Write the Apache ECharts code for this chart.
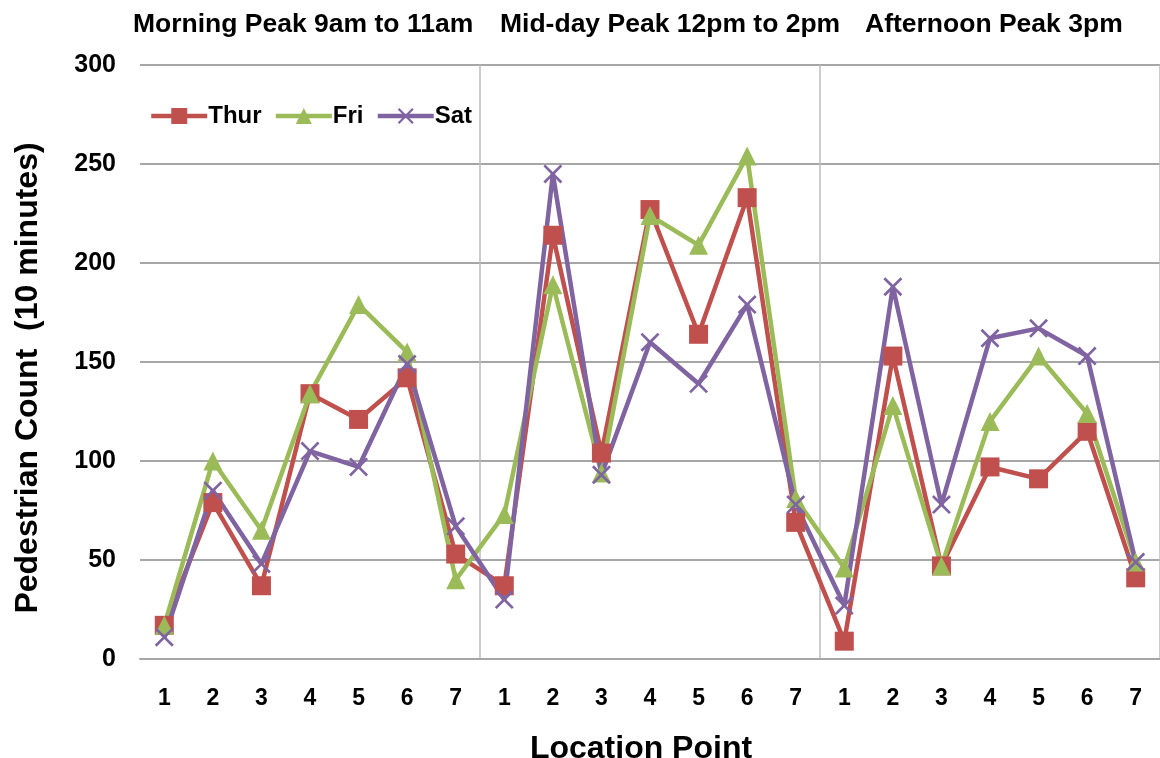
<!DOCTYPE html>
<html>
<head>
<meta charset="utf-8">
<script src="https://cdn.jsdelivr.net/npm/echarts@6/dist/echarts.min.js"></script>
<style>
  html, body { margin: 0; padding: 0; background: #fff; }
  #main { width: 1160px; height: 758px; }
</style>
</head>
<body>
<div id="main"></div>
<script>
// location points, three peaks of 7
var locations = ['1','2','3','4','5','6','7','1','2','3','4','5','6','7','1','2','3','4','5','6','7'];
var peakTitles = ['Morning Peak 9am to 11am', 'Mid-day Peak 12pm to 2pm', 'Afternoon Peak 3pm'];

var thur = [17, 79, 37, 134, 121, 142, 53,   37, 214, 104, 227, 164, 233, 69,   9, 153, 47, 97, 91, 115, 41];
var fri  = [17, 100, 65, 134, 179, 155, 40,  73, 189, 94, 224, 209, 254, 81,   46, 128, 47, 120, 153, 124, 49];
var sat  = [11, 85, 48, 105, 97, 149, 67,    30, 245, 93, 160, 139, 179, 78,   27, 188, 78, 162, 167, 153, 49];

var crossPath = 'path://M0,1 L1,0 L5,4 L9,0 L10,1 L6,5 L10,9 L9,10 L5,6 L1,10 L0,9 L4,5 Z';
var font = 'Liberation Sans, Arial, sans-serif';

var myChart = echarts.init(document.getElementById('main'));

function makeSeries(name, data, color, symbol, size) {
  return {
    name: name,
    type: 'line',
    data: data,
    symbol: symbol,
    symbolSize: size,
    showAllSymbol: true,
    lineStyle: { color: color, width: 4.5 },
    itemStyle: { color: color },
    emphasis: { disabled: true },
    animation: false
  };
}

myChart.setOption({
  backgroundColor: '#fff',
  title: [
    { text: peakTitles[0], left: 128, top: 6 },
    { text: peakTitles[1], left: 495, top: 6 },
    { text: peakTitles[2], left: 860, top: 6 }
  ].map(function (t) {
    t.textStyle = { fontFamily: font, fontWeight: 'bold', fontSize: 26.5, color: '#000' };
    return t;
  }),
  legend: {
    left: 144,
    top: 99,
    itemWidth: 56,
    itemHeight: 20,
    itemGap: 12,
    lineStyle: { width: 4.5 },
    textStyle: { fontFamily: font, fontWeight: 'bold', fontSize: 24, color: '#000', padding: [0, 0, 0, -4] },
    data: ['Thur', 'Fri', 'Sat']
  },
  grid: {
    left: 140,
    right: 0,
    top: 65,
    bottom: 99,
    outerBoundsMode: 'none'
  },
  xAxis: {
    type: 'category',
    data: locations,
    name: 'Location Point',
    nameLocation: 'middle',
    nameGap: 74,
    nameTextStyle: { fontFamily: font, fontWeight: 'bold', fontSize: 32, color: '#000', padding: [0, 18, 0, 0] },
    axisLine: { lineStyle: { color: '#a6a6a6', width: 2 } },
    axisTick: { show: false },
    axisLabel: { fontFamily: font, fontWeight: 'bold', fontSize: 23, color: '#000', margin: 28 },
    splitLine: {
      show: true,
      interval: function (index) { return index === 7 || index === 14; },
      lineStyle: { color: '#bdbdbd', width: 1.5 }
    }
  },
  yAxis: {
    type: 'value',
    min: 0,
    max: 300,
    interval: 50,
    name: 'Pedestrian Count  (10 minutes)',
    nameLocation: 'middle',
    nameGap: 96,
    nameTextStyle: { fontFamily: font, fontWeight: 'bold', fontSize: 32, color: '#000', padding: [0, 32, 0, 0] },
    axisLine: { show: false },
    axisTick: { show: false },
    axisLabel: { fontFamily: font, fontWeight: 'bold', fontSize: 25, color: '#000', margin: 24 },
    splitLine: { lineStyle: { color: '#a6a6a6', width: 2 } }
  },
  series: [
    makeSeries('Thur', thur, '#c0504d', 'rect', 19),
    makeSeries('Fri', fri, '#9bbb59', 'triangle', 19),
    makeSeries('Sat', sat, '#8064a2', crossPath, 19)
  ]
});
</script>
</body>
</html>
